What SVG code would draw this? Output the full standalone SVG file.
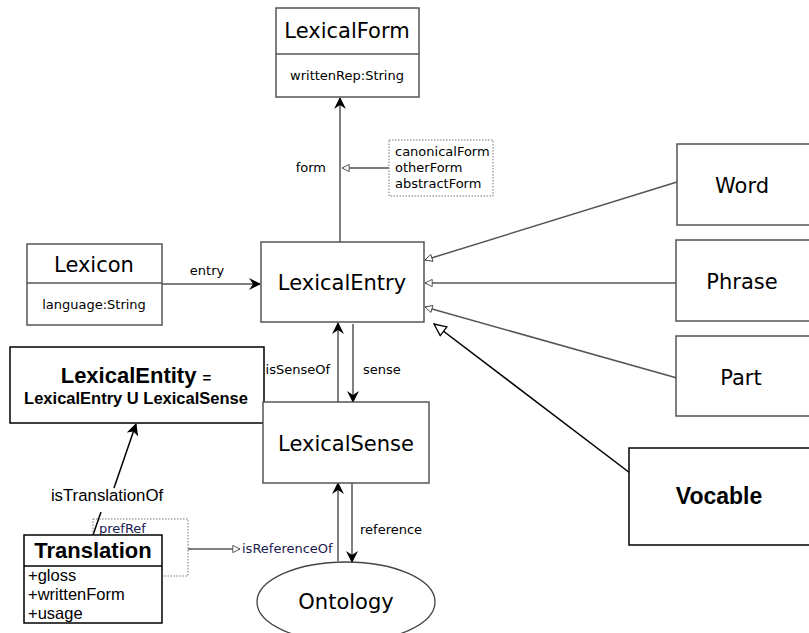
<svg xmlns="http://www.w3.org/2000/svg" width="809" height="633" viewBox="0 0 809 633">
<style>
.box{fill:#fff;stroke:#555;stroke-width:1.5}
.bk{fill:#fff;stroke:#000;stroke-width:1.5}
.dot{fill:none;stroke:#777;stroke-width:1;stroke-dasharray:1.5 1.5}
.t{font-family:"DejaVu Sans",sans-serif;fill:#000}
.s{font-size:13px}
.L{font-size:21px}
.h{font-family:"Liberation Sans",Arial,sans-serif;fill:#000}
.ln{stroke:#555;stroke-width:1.5;fill:none}
.lk{stroke:#000;stroke-width:1.5;fill:none}
</style>
<defs>
<marker id="fa" viewBox="0 0 12 12" refX="11" refY="6" markerWidth="12" markerHeight="12" markerUnits="userSpaceOnUse" orient="auto">
<path d="M0,0 L12,6 L0,12 L4,6 Z" fill="#000"/>
</marker>
<marker id="oa" viewBox="0 0 10 10" refX="9" refY="5" markerWidth="9" markerHeight="9" markerUnits="userSpaceOnUse" orient="auto">
<path d="M1,1 L9,5 L1,9 Z" fill="#fff" stroke="#444" stroke-width="1"/>
</marker>
<marker id="ob" viewBox="0 0 14 14" refX="13" refY="7" markerWidth="14" markerHeight="14" markerUnits="userSpaceOnUse" orient="auto">
<path d="M1,1.5 L13,7 L1,12.5 Z" fill="#fff" stroke="#000" stroke-width="1.3"/>
</marker>
<marker id="ta" viewBox="0 0 12 12" refX="11" refY="6" markerWidth="12" markerHeight="12" markerUnits="userSpaceOnUse" orient="auto">
<path d="M0,0 L12,6 L0,12 L3,6 Z" fill="#000"/>
</marker>
</defs>

<g id="connectors">
<line class="ln" x1="340" y1="242" x2="340" y2="98" marker-end="url(#fa)"/>
<line class="ln" x1="389" y1="168" x2="342" y2="168" marker-end="url(#oa)"/>
<text class="t s" x="326" y="172" text-anchor="end">form</text>
<line class="ln" x1="162" y1="284" x2="260" y2="284" marker-end="url(#fa)"/>
<text class="t s" x="207" y="275" text-anchor="middle">entry</text>
<line class="ln" x1="677" y1="182" x2="425" y2="260" marker-end="url(#oa)"/>
<line class="ln" x1="677" y1="283" x2="425" y2="283" marker-end="url(#oa)"/>
<line class="ln" x1="677" y1="378" x2="425" y2="307" marker-end="url(#oa)"/>
<line class="lk" x1="630" y1="473" x2="434" y2="324" marker-end="url(#ob)"/>
<line class="ln" x1="338" y1="402" x2="338" y2="323" marker-end="url(#fa)"/>
<line class="ln" x1="353" y1="324" x2="353" y2="402" marker-end="url(#fa)"/>
<text class="t s" x="330" y="374" text-anchor="end">isSenseOf</text>
<text class="t s" x="363" y="374">sense</text>
<line class="ln" x1="338" y1="561" x2="338" y2="483" marker-end="url(#fa)"/>
<line class="ln" x1="352" y1="483" x2="352" y2="562" marker-end="url(#fa)"/>
<text class="t s" x="360" y="534">reference</text>
<line class="ln" x1="188" y1="549" x2="240" y2="549" marker-end="url(#oa)"/>
<text class="t s" x="242" y="553" style="fill:#1a2050">isReferenceOf</text>
<line class="lk" x1="93" y1="535" x2="101" y2="512"/>
<line class="lk" x1="114" y1="488" x2="136" y2="424" marker-end="url(#ta)"/>
<text class="h" x="107" y="501" font-size="16.8" text-anchor="middle">isTranslationOf</text>
</g>

<g id="LexicalForm">
<rect class="box" x="276" y="8" width="143" height="89"/>
<line class="ln" x1="276" y1="54" x2="419" y2="54"/>
<text class="t L" x="347" y="38" text-anchor="middle">LexicalForm</text>
<text class="t s" x="347" y="80" text-anchor="middle">writtenRep:String</text>
</g>

<g id="formNote">
<rect class="dot" x="389" y="140" width="104" height="56"/>
<text class="t s" x="395" y="156">canonicalForm</text>
<text class="t s" x="395" y="172">otherForm</text>
<text class="t s" x="395" y="188">abstractForm</text>
</g>

<g id="Lexicon">
<rect class="box" x="27" y="244" width="135" height="81"/>
<line class="ln" x1="27" y1="283" x2="162" y2="283"/>
<text class="t L" x="94" y="272" text-anchor="middle">Lexicon</text>
<text class="t s" x="94" y="309" text-anchor="middle">language:String</text>
</g>

<g id="LexicalEntry">
<rect class="box" x="261" y="242" width="163" height="80"/>
<text class="t L" x="342" y="290" text-anchor="middle">LexicalEntry</text>
</g>

<g id="Word">
<rect class="box" x="677" y="144" width="134" height="81"/>
<text class="t L" x="742" y="193" text-anchor="middle">Word</text>
</g>

<g id="Phrase">
<rect class="box" x="676" y="240" width="135" height="81"/>
<text class="t L" x="742" y="289" text-anchor="middle">Phrase</text>
</g>

<g id="Part">
<rect class="box" x="676" y="336" width="135" height="80"/>
<text class="t L" x="741" y="385" text-anchor="middle">Part</text>
</g>

<g id="Vocable">
<rect class="bk" x="629" y="448" width="182" height="97"/>
<text class="h" x="719" y="504" font-size="23" font-weight="bold" text-anchor="middle">Vocable</text>
</g>

<g id="LexicalEntity">
<rect class="bk" x="10" y="347" width="254" height="76"/>
<text class="h" x="136" y="383" font-size="22" font-weight="bold" text-anchor="middle">LexicalEntity <tspan font-size="15">=</tspan></text>
<text class="h" x="136" y="404" font-size="16.5" font-weight="bold" text-anchor="middle">LexicalEntry U LexicalSense</text>
</g>

<g id="LexicalSense">
<rect class="box" x="263" y="402" width="166" height="81"/>
<text class="t L" x="346" y="451" text-anchor="middle">LexicalSense</text>
</g>

<g id="Ontology">
<ellipse fill="#fff" stroke="#444" stroke-width="1.3" cx="346" cy="602" rx="89" ry="40"/>
<text class="t L" x="346" y="609" text-anchor="middle">Ontology</text>
</g>

<g id="refNote">
<rect class="dot" x="93" y="519" width="95" height="57"/>
<text class="t s" x="99" y="533" style="fill:#1a2050">prefRef</text>
</g>

<g id="Translation">
<rect class="bk" x="24" y="535" width="138" height="88"/>
<line class="lk" x1="24" y1="566" x2="162" y2="566"/>
<text class="h" x="93" y="558" font-size="22" font-weight="bold" text-anchor="middle">Translation</text>
<text class="h" x="28" y="581" font-size="16.5">+gloss</text>
<text class="h" x="28" y="600" font-size="16.5">+writtenForm</text>
<text class="h" x="28" y="619" font-size="16.5">+usage</text>
</g>
</svg>
